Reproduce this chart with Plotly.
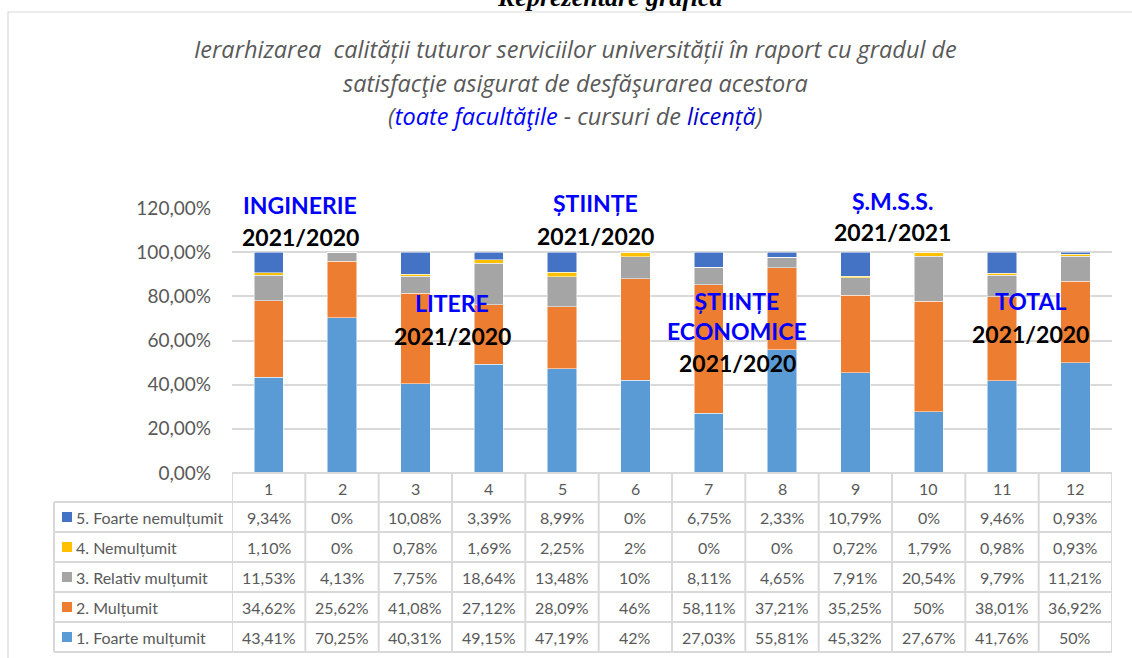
import plotly.graph_objects as go

# ---------------- data ----------------
categories = [1, 2, 3, 4, 5, 6, 7, 8, 9, 10, 11, 12]
foarte_multumit = [43.41, 70.25, 40.31, 49.15, 47.19, 42, 27.03, 55.81, 45.32, 27.67, 41.76, 50]
multumit = [34.62, 25.62, 41.08, 27.12, 28.09, 46, 58.11, 37.21, 35.25, 50, 38.01, 36.92]
relativ_multumit = [11.53, 4.13, 7.75, 18.64, 13.48, 10, 8.11, 4.65, 7.91, 20.54, 9.79, 11.21]
nemultumit = [1.10, 0, 0.78, 1.69, 2.25, 2, 0, 0, 0.72, 1.79, 0.98, 0.93]
foarte_nemultumit = [9.34, 0, 10.08, 3.39, 8.99, 0, 6.75, 2.33, 10.79, 0, 9.46, 0.93]

series_names = ["1. Foarte mulțumit", "2. Mulțumit", "3. Relativ mulțumit",
                "4. Nemulțumit", "5. Foarte nemulțumit"]
series_values = [foarte_multumit, multumit, relativ_multumit, nemultumit, foarte_nemultumit]
series_colors = ["#5B9BD5", "#ED7D31", "#A5A5A5", "#FFC000", "#4472C4"]

y_ticks = [0, 20, 40, 60, 80, 100, 120]

faculty_names = ["INGINERIE", "LITERE", "ȘTIINȚE", "ȘTIINȚE<br>ECONOMICE", "Ș.M.S.S.", "TOTAL"]
faculty_years = ["2021/2020", "2021/2020", "2021/2020", "2021/2020", "2021/2021", "2021/2020"]

main_title = "Reprezentare grafică"
subtitle_1 = "Ierarhizarea  calității tuturor serviciilor universității în raport cu gradul de"
subtitle_2 = "satisfacţie asigurat de desfăşurarea acestora"
subtitle_3 = ("(<span style='color:#0000FF'>toate facultăţile</span> - cursuri de "
              "<span style='color:#0000CC'>licență</span>)")

# ---------------- layout geometry (screen pixels) ----------------
W, H = 1132, 658
PL, PR, PT, PB = 232, 1112, 208, 473  # plot area box
GRAY_TXT = "#595959"
GRID = "#D9D9D9"
FONT = "Lato"


def px_x(px):
    return (px - PL) / (PR - PL)


def px_y(py):
    return (PB - py) / (PB - PT)


def fmt(v):
    if float(v) == int(v):
        return f"{int(v)}%"
    return f"{v:.2f}".replace(".", ",") + "%"


def ann(x, y, text, font, xref="paper", yref="paper", xanchor="center", yanchor="middle"):
    return dict(x=x, y=y, xref=xref, yref=yref, text=text, showarrow=False,
                xanchor=xanchor, yanchor=yanchor, font=font)


fig = go.Figure()
for name, vals, col in zip(series_names, series_values, series_colors):
    fig.add_trace(go.Bar(
        x=categories, y=vals, name=name, width=0.4,
        marker=dict(color=col, line=dict(color="white", width=0.5)),
        showlegend=False, hoverinfo="name+y",
    ))

shapes = []
annotations = []

# outer chart border
shapes.append(dict(type="rect", xref="paper", yref="paper",
                   x0=px_x(8), x1=px_x(1160), y0=px_y(690), y1=px_y(12),
                   line=dict(color=GRID, width=1.2), fillcolor="rgba(0,0,0,0)", layer="below"))

# ---------------- data table ----------------
row_h = 30
header_top, header_bot = PB, PB + 29
legend_left = 54
n_rows = len(series_names)
table_bottom = header_bot + n_rows * row_h
tfont = dict(family=FONT, size=16, color=GRAY_TXT)

for i in range(len(categories) + 1):
    xb = categories[0] - 0.5 + i
    shapes.append(dict(type="line", xref="x", yref="paper", x0=xb, x1=xb,
                       y0=px_y(header_top), y1=px_y(table_bottom),
                       line=dict(color=GRID, width=2)))
shapes.append(dict(type="line", xref="paper", yref="paper", x0=px_x(legend_left), x1=px_x(legend_left),
                   y0=px_y(header_bot), y1=px_y(table_bottom), line=dict(color=GRID, width=2)))
shapes.append(dict(type="line", xref="paper", yref="paper", x0=0, x1=1,
                   y0=px_y(header_top), y1=px_y(header_top), line=dict(color=GRID, width=2)))
for r in range(n_rows + 1):
    yy = header_bot + r * row_h
    shapes.append(dict(type="line", xref="paper", yref="paper", x0=px_x(legend_left), x1=1,
                       y0=px_y(yy), y1=px_y(yy), line=dict(color=GRID, width=2)))

for c in categories:
    annotations.append(ann(c, px_y((header_top + header_bot) / 2 + 1), str(c), tfont, xref="x"))

for r, idx in enumerate(reversed(range(n_rows))):
    yc = header_bot + r * row_h + row_h / 2
    shapes.append(dict(type="rect", xref="paper", yref="paper",
                       x0=px_x(62), x1=px_x(72), y0=px_y(yc + 5), y1=px_y(yc - 5),
                       line=dict(width=0), fillcolor=series_colors[idx]))
    annotations.append(ann(px_x(74), px_y(yc), series_names[idx], tfont, xanchor="left"))
    for c, v in zip(categories, series_values[idx]):
        annotations.append(ann(c, px_y(yc), fmt(v), tfont, xref="x"))

# ---------------- faculty labels ----------------
label_pos = [  # (x in category units, name y px, year y px)
    (1.43, 205, 237),
    (3.50, 303, 336),
    (5.46, 203, 236),
    (7.39, 316, 363),
    (9.51, 201, 232),
    (11.39, 301, 334),
]
for k, (xc, name_y, year_y) in enumerate(label_pos):
    annotations.append(dict(ann(xc, px_y(name_y), f"<b>{faculty_names[k]}</b>",
                                dict(family=FONT, size=23, color="#0000FF"), xref="x"),
                            align="center"))
    annotations.append(ann(xc, px_y(year_y), f"<b>{faculty_years[k]}</b>",
                           dict(family=FONT, size=23, color="#000000"), xref="x"))

# ---------------- titles ----------------
annotations.append(ann(px_x(610), px_y(-3), f"<b><i>{main_title}</i></b>",
                       dict(family="Liberation Serif", size=26, color="#000000")))
sfont = dict(family="Open Sans", size=23.5, color=GRAY_TXT)
for txt, yy in [(subtitle_1, 49), (subtitle_2, 83), (subtitle_3, 116)]:
    annotations.append(ann(px_x(575), px_y(yy), f"<i>{txt}</i>", sfont))

fig.update_layout(
    width=W, height=H,
    margin=dict(l=PL, r=W - PR, t=PT, b=H - PB, pad=0),
    paper_bgcolor="white", plot_bgcolor="white",
    barmode="stack",
    xaxis=dict(range=[0.5, 12.5], showticklabels=False, showgrid=False, zeroline=False,
               showline=False, ticks="", fixedrange=True),
    yaxis=dict(range=[0, 120], tickvals=y_ticks,
               ticktext=[f"{v:.2f}".replace(".", ",") + "%" for v in y_ticks],
               showgrid=True, gridcolor=GRID, gridwidth=1.5, zeroline=False, showline=False,
               ticks="", ticklabelstandoff=20,
               tickfont=dict(family=FONT, size=19, color=GRAY_TXT), fixedrange=True),
    shapes=shapes, annotations=annotations,
    font=dict(family=FONT),
)

fig.write_html("out.html", config={"displayModeBar": False},
               post_script="document.body.style.margin='0px';")
